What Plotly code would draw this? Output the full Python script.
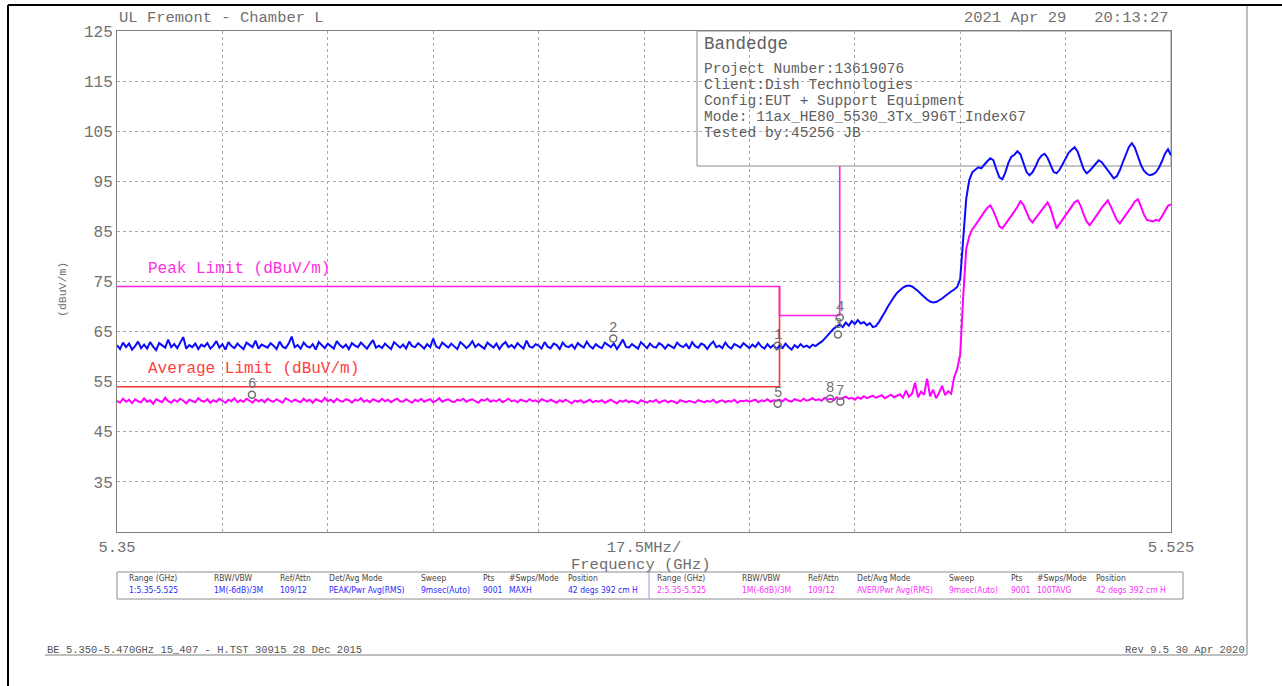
import numpy as np
import plotly.graph_objects as go

# ---------------- data ----------------
sweep_start_ghz = 5.35
sweep_stop_ghz = 5.525

# Trace 1: peak (MAXH), read every 0.5 MHz
peak_dbuv = [
    62.3, 61.5, 62.8, 61.9, 62.6, 61.4, 62.1, 63.0, 61.7, 62.4,
    61.6, 62.9, 62.0, 61.3, 62.7, 62.2, 61.8, 63.4, 61.9, 62.5,
    61.7, 62.8, 63.9, 61.6, 62.3, 61.9, 62.6, 61.5, 62.4, 62.0,
    62.7, 61.6, 62.2, 63.1, 61.8, 62.5, 61.4, 62.9, 62.1, 61.7,
    62.6, 62.0, 61.5, 62.8, 62.3, 61.9, 63.2, 61.6, 62.4, 62.1,
    61.8, 62.7, 62.2, 61.5, 63.0, 62.0, 61.7, 62.6, 64.0, 61.9,
    62.3, 61.6, 62.8, 62.1, 61.8, 62.5, 61.4, 62.9, 62.2, 61.7,
    62.6, 62.0, 61.6, 63.1, 62.3, 61.8, 62.4, 61.5, 62.7, 62.2,
    61.9, 62.8, 62.1, 61.6, 62.5, 63.3, 61.8, 62.2, 61.7, 62.6,
    62.0, 61.5, 62.9, 62.3, 61.8, 62.4, 61.6, 63.0, 62.1, 61.9,
    62.7, 62.2, 61.6, 62.5, 61.9, 63.6, 62.0, 61.7, 62.8, 62.3,
    61.8, 62.6, 62.1, 61.5, 62.9, 62.4, 61.7, 62.2, 63.1, 61.9,
    62.5, 62.0, 61.6, 62.8, 62.2, 61.8, 62.6, 61.5, 62.4, 62.9,
    61.9, 62.3, 61.7, 62.7, 62.1, 61.6, 63.2, 62.0, 61.8, 62.5,
    62.2, 61.6, 62.9, 62.0, 61.7, 62.6, 62.3, 61.5, 62.8, 62.1,
    61.9, 62.4, 61.6, 62.7, 62.2, 61.8, 63.0, 62.1, 61.6, 62.5,
    62.0, 61.7, 62.8, 62.3, 61.9, 62.6, 61.5, 62.4, 63.4, 62.0,
    61.8, 62.5, 62.1, 61.6, 62.9, 62.2, 61.7, 62.6, 62.0, 61.8,
    62.7, 62.3, 61.6, 62.4, 62.0, 61.7, 62.8, 62.2, 61.9, 62.5,
    61.6, 62.9, 62.1, 61.8, 62.6, 62.3, 61.5, 62.4, 63.0, 61.9,
    62.2, 61.7, 62.8, 62.0, 61.6, 62.5, 62.2, 61.8, 62.7, 62.1,
    61.7, 62.4, 61.9, 62.8, 62.0, 61.6, 62.5, 61.8, 62.3, 61.5,
    62.2, 61.7, 62.6, 61.9, 61.4, 62.3, 61.8, 62.5, 61.9, 62.2,
    61.8, 62.4, 62.1, 62.6, 63.0, 63.6, 64.3, 64.9, 65.6, 66.0,
    66.4, 65.9, 66.8, 66.2, 67.1, 66.5, 67.3, 66.6, 66.9, 66.3,
    66.7, 65.9, 66.1, 66.9, 67.8, 68.9, 70.0, 71.0, 71.9, 72.7,
    73.3, 73.8, 74.1, 74.2, 74.0, 73.6, 73.1, 72.5, 71.9, 71.4,
    71.0, 70.8, 70.9, 71.2, 71.6, 72.1, 72.6, 73.0, 73.4, 73.9,
    75.5, 84.0, 91.5, 95.2, 96.8, 97.3, 97.8, 97.6, 98.4, 99.0,
    99.6, 99.2, 97.4, 95.8, 95.4, 96.8, 98.7, 99.9, 100.3, 101.0,
    100.4, 98.6, 96.9, 96.2, 96.8, 97.9, 99.3, 100.1, 100.5, 99.7,
    98.2, 96.9, 96.6, 97.3, 98.4, 99.6, 100.7, 101.3, 101.8, 100.9,
    99.2, 97.4, 96.6, 97.1, 97.8, 98.6, 99.2, 98.8, 98.0, 97.1,
    96.2, 95.6, 96.0, 97.2, 98.8, 100.4, 101.8, 102.6, 101.7, 100.0,
    98.3, 97.1, 96.5, 96.2, 96.4, 96.8, 97.7, 99.0, 100.5, 101.4,
    100.2,
]

# Trace 2: average (100 AVG), read every 0.5 MHz
avg_dbuv = [
    51.2, 50.8, 51.6, 51.0, 51.4, 50.7, 51.5, 51.1, 50.9, 51.7,
    51.0, 51.3, 50.6, 51.5, 51.2, 50.9, 51.8, 51.1, 50.8, 51.4,
    51.0, 51.6, 51.2, 50.7, 51.4, 51.1, 50.9, 51.7, 51.2, 51.0,
    51.5, 50.8, 51.3, 51.0, 51.6, 51.2, 50.8, 51.4, 51.1, 51.7,
    50.9, 51.3, 51.0, 51.6, 51.2, 50.8, 51.5, 51.1, 51.4, 50.9,
    51.6, 51.2, 51.0, 51.5, 51.1, 50.8, 51.7, 51.3, 51.0, 51.4,
    51.2, 50.9, 51.6, 51.1, 51.4, 50.8, 51.5, 51.2, 51.0, 51.8,
    51.1, 51.4, 50.9, 51.6, 51.2, 51.0, 51.5, 51.3, 50.8, 51.4,
    51.2, 51.7, 51.0, 51.3, 50.9, 51.5, 51.2, 51.0, 51.6, 51.1,
    51.4, 50.9, 51.3, 51.6, 51.1, 51.0, 51.5, 51.2, 50.8, 51.4,
    51.1, 51.6, 51.0, 51.3, 51.5, 50.9, 51.2, 51.7, 51.0, 51.3,
    51.5, 51.1, 50.9, 51.4, 51.2, 51.6, 51.0, 51.3, 51.5, 51.1,
    50.8, 51.4, 51.2, 51.6, 51.0, 51.3, 51.1, 51.5, 50.9, 51.2,
    51.6, 51.1, 51.3, 50.9, 51.4, 51.2, 51.0, 51.5, 51.1, 51.3,
    50.9, 51.5, 51.2, 51.0, 51.4, 51.1, 50.8, 51.3, 51.0, 51.4,
    51.1, 50.7, 51.2, 51.0, 51.3, 50.8, 51.1, 51.4, 50.9, 51.2,
    51.0, 51.3, 50.8, 51.1, 51.4, 51.0, 50.7, 51.2, 51.0, 51.3,
    50.9, 51.2, 51.0, 50.7, 51.3, 51.1, 50.8, 51.2, 51.0, 51.4,
    50.8, 51.1, 51.3, 50.9, 51.2, 51.0, 50.7, 51.3, 51.1, 50.9,
    51.2, 51.0, 50.8, 51.3, 51.1, 50.9, 51.2, 51.0, 51.4, 50.8,
    51.1, 51.3, 50.9, 51.2, 51.0, 51.4, 50.8, 51.2, 51.1, 51.3,
    51.0, 51.2, 51.4, 50.9, 51.3, 51.1, 51.5, 51.0, 51.3, 51.2,
    51.4, 51.1, 51.6, 51.2, 51.0, 51.5, 51.3, 51.1, 51.6, 51.2,
    51.4, 51.7, 51.3, 51.5, 51.2, 51.8, 51.4, 51.6, 51.3, 51.9,
    51.5, 51.7, 52.0, 51.6, 51.8, 51.4, 51.9, 51.6, 52.1, 51.7,
    51.9, 52.2, 51.8, 52.0, 52.3, 51.7, 52.1, 52.4, 51.9, 52.2,
    52.5, 51.8, 53.2, 52.0, 52.6, 54.8, 51.9, 53.0, 52.4, 55.6,
    52.1, 53.4, 51.7, 52.8, 54.2, 52.3, 53.1, 52.6, 55.9, 57.5,
    60.5, 72.0, 81.5, 84.0, 85.4, 86.2, 87.0, 88.0, 88.9, 89.7,
    90.2, 89.1, 87.6, 86.0, 85.6, 86.4, 87.3, 88.2, 89.0, 89.9,
    91.0, 90.3, 88.9, 87.5, 86.8, 87.6, 88.5, 89.4, 90.2, 90.8,
    89.6, 87.5, 85.6, 86.5, 87.4, 88.3, 89.2, 90.0, 90.8, 91.2,
    90.1, 88.4, 87.0, 86.2, 87.0, 87.9, 88.8, 89.7, 90.5, 91.2,
    90.0, 88.5, 87.3, 86.6, 87.4, 88.2, 89.1, 90.0, 91.0, 91.4,
    90.0, 88.4, 87.3, 87.2, 87.0, 87.3, 87.1, 88.0, 89.2, 90.1,
    90.4,
]

peak_limit_ghz = [5.35, 5.46, 5.46, 5.47, 5.47]
peak_limit_dbuv = [74.0, 74.0, 68.2, 68.2, 98.0]
avg_limit_ghz = [5.35, 5.46, 5.46]
avg_limit_dbuv = [54.0, 54.0, 74.0]

marker_labels = ["1", "2", "3", "4", "5", "6", "7", "8"]
marker_ghz = [5.4597, 5.4324, 5.4697, 5.4700, 5.4597, 5.3724, 5.4701, 5.4684]
marker_dbuv = [62.2, 63.6, 64.4, 67.8, 50.6, 52.4, 51.0, 51.6]

y_ticks = [35, 45, 55, 65, 75, 85, 95, 105, 115, 125]
x_ticktext = ["5.35", "", "", "", "", "17.5MHz/", "", "", "", "", "5.525"]

info_title = "Bandedge"
info_lines = [
    "Project Number:13619076",
    "Client:Dish Technologies",
    "Config:EUT + Support Equipment",
    "Mode: 11ax_HE80_5530_3Tx_996T_Index67",
    "Tested by:45256 JB",
]

table_headers = ["Range (GHz)", "RBW/VBW", "Ref/Attn", "Det/Avg Mode", "Sweep", "Pts", "#Swps/Mode", "Position"]
table_row1 = ["1:5.35-5.525", "1M(-6dB)/3M", "109/12", "PEAK/Pwr Avg(RMS)", "9msec(Auto)", "9001", "MAXH", "42 degs 392 cm H"]
table_row2 = ["2:5.35-5.525", "1M(-6dB)/3M", "109/12", "AVER/Pwr Avg(RMS)", "9msec(Auto)", "9001", "100TAVG", "42 degs 392 cm H"]

# ---------------- layout helpers ----------------
W, H = 1282, 686
L, R, T, B = 117, 1171, 31, 532


def px2x(px):
    return (px - L) / (R - L)


def px2y(py):
    return (B - py) / (B - T)


FONT = "Liberation Mono, DejaVu Sans Mono, monospace"
SMALL = "DejaVu Sans Condensed, DejaVu Sans, sans-serif"
GRAY = "#707070"

freq = np.linspace(sweep_start_ghz, sweep_stop_ghz, len(peak_dbuv))
freq_avg = np.linspace(sweep_start_ghz, sweep_stop_ghz, len(avg_dbuv))

fig = go.Figure()

fig.add_trace(go.Scatter(x=avg_limit_ghz, y=avg_limit_dbuv, mode="lines",
                         line=dict(color="#ff3535", width=1.6), hoverinfo="skip"))
fig.add_trace(go.Scatter(x=peak_limit_ghz, y=peak_limit_dbuv, mode="lines",
                         line=dict(color="#ff1ee6", width=1.6), hoverinfo="skip"))
fig.add_trace(go.Scatter(x=freq_avg, y=avg_dbuv, mode="lines",
                         line=dict(color="#ff00ff", width=2.0), name="Trace 2"))
fig.add_trace(go.Scatter(x=freq, y=peak_dbuv, mode="lines",
                         line=dict(color="#0a0aff", width=2.0), name="Trace 1"))
fig.add_trace(go.Scatter(x=marker_ghz, y=marker_dbuv, mode="markers",
                         marker=dict(symbol="circle-open", size=7, color="#707070",
                                     line=dict(width=1.5, color="#707070")),
                         hoverinfo="skip"))

annotations = []
for lab, fx, fy in zip(marker_labels, marker_ghz, marker_dbuv):
    annotations.append(dict(x=fx, y=fy, xref="x", yref="y", text=lab, showarrow=False,
                            yshift=11, font=dict(family=FONT, size=14, color=GRAY)))


def ptext(px, py, text, size, color=GRAY, anchor="left", family=FONT, angle=0):
    annotations.append(dict(x=px2x(px), y=px2y(py), xref="paper", yref="paper", text=text,
                            showarrow=False, xanchor=anchor, yanchor="middle", textangle=angle,
                            font=dict(family=family, size=size, color=color)))


# header / footer texts
ptext(117, 18, "UL Fremont - Chamber L", 15.5)
ptext(1171, 18, "2021 Apr 29   20:13:27", 15.5, anchor="right")
ptext(146, 269, "Peak Limit (dBuV/m)", 16, color="#ff30e0")
ptext(146, 369, "Average Limit (dBuV/m)", 16, color="#ff4040")
ptext(62, 290, "(dBuV/m)", 11.5, anchor="center", angle=-90)
ptext(641, 565, "Frequency (GHz)", 15.5, anchor="center")
ptext(45, 650, "BE 5.350-5.470GHz 15_407 - H.TST 30915 28 Dec 2015", 10.5, color="#555555")
ptext(1247, 650, "Rev 9.5 30 Apr 2020", 10.5, color="#555555", anchor="right")

# info box text
ptext(702, 44, info_title, 17.5, color="#606060")
for k, line in enumerate(info_lines):
    ptext(702, 69 + 16 * k, line, 14.5, color="#606060")

# settings table
col_px = [127, 212, 278, 327, 419, 481, 507, 566]
half_offset = 528
for k, (hdr, v1, v2) in enumerate(zip(table_headers, table_row1, table_row2)):
    ptext(col_px[k], 578, hdr, 8.5, color="#444444", family=SMALL)
    ptext(col_px[k] + half_offset, 578, hdr, 8.5, color="#444444", family=SMALL)
    ptext(col_px[k], 590, v1, 8.5, color="#2a2aff", family=SMALL)
    ptext(col_px[k] + half_offset, 590, v2, 8.5, color="#ff2cff", family=SMALL)

shapes = [
    # info box (above grid, below traces)
    dict(type="rect", xref="paper", yref="paper", x0=px2x(697), x1=1.0, y0=px2y(166), y1=1.0,
         line=dict(color="#8c8c8c", width=1), fillcolor="white", layer="between"),
    # settings table box
    dict(type="rect", xref="paper", yref="paper", x0=px2x(117), x1=px2x(1183),
         y0=px2y(599), y1=px2y(572), line=dict(color="#8c8c8c", width=1)),
    dict(type="line", xref="paper", yref="paper", x0=px2x(649), x1=px2x(649),
         y0=px2y(599), y1=px2y(572), line=dict(color="#b090d0", width=1)),
    # outer frame (black)
    dict(type="line", xref="paper", yref="paper", x0=px2x(8), x1=px2x(1282),
         y0=px2y(5), y1=px2y(5), line=dict(color="black", width=2)),
    dict(type="line", xref="paper", yref="paper", x0=px2x(8), x1=px2x(8),
         y0=px2y(5), y1=px2y(686), line=dict(color="black", width=2)),
    # inner frame (gray)
    dict(type="line", xref="paper", yref="paper", x0=px2x(1247), x1=px2x(1247),
         y0=px2y(6), y1=px2y(655), line=dict(color="#808080", width=1)),
    dict(type="line", xref="paper", yref="paper", x0=px2x(45), x1=px2x(1247),
         y0=px2y(655), y1=px2y(655), line=dict(color="#808080", width=1)),
]

x_tickvals = list(np.linspace(sweep_start_ghz, sweep_stop_ghz, len(x_ticktext)))

fig.update_layout(
    width=W, height=H,
    margin=dict(l=L, r=W - R, t=T, b=H - B, pad=0),
    paper_bgcolor="white", plot_bgcolor="white",
    showlegend=False,
    annotations=annotations,
    shapes=shapes,
    xaxis=dict(range=[sweep_start_ghz, sweep_stop_ghz], tickvals=x_tickvals, ticktext=x_ticktext,
               showgrid=True, gridcolor="#a8a8a8", griddash="dot", gridwidth=1,
               showline=True, linecolor="#808080", linewidth=1, mirror=True,
               zeroline=False, ticks="", ticklabelstandoff=0,
               tickfont=dict(family=FONT, size=15.5, color=GRAY)),
    yaxis=dict(range=[25, 125], tickvals=y_ticks, ticktext=[str(v) for v in y_ticks],
               showgrid=True, gridcolor="#a8a8a8", griddash="dot", gridwidth=1,
               showline=True, linecolor="#808080", linewidth=1, mirror=True,
               zeroline=False, ticks="", tickfont=dict(family=FONT, size=16, color=GRAY)),
)

fig.write_html("out.html", config={"displayModeBar": False},
               post_script="document.body.style.margin='0';document.body.style.overflow='hidden';")
